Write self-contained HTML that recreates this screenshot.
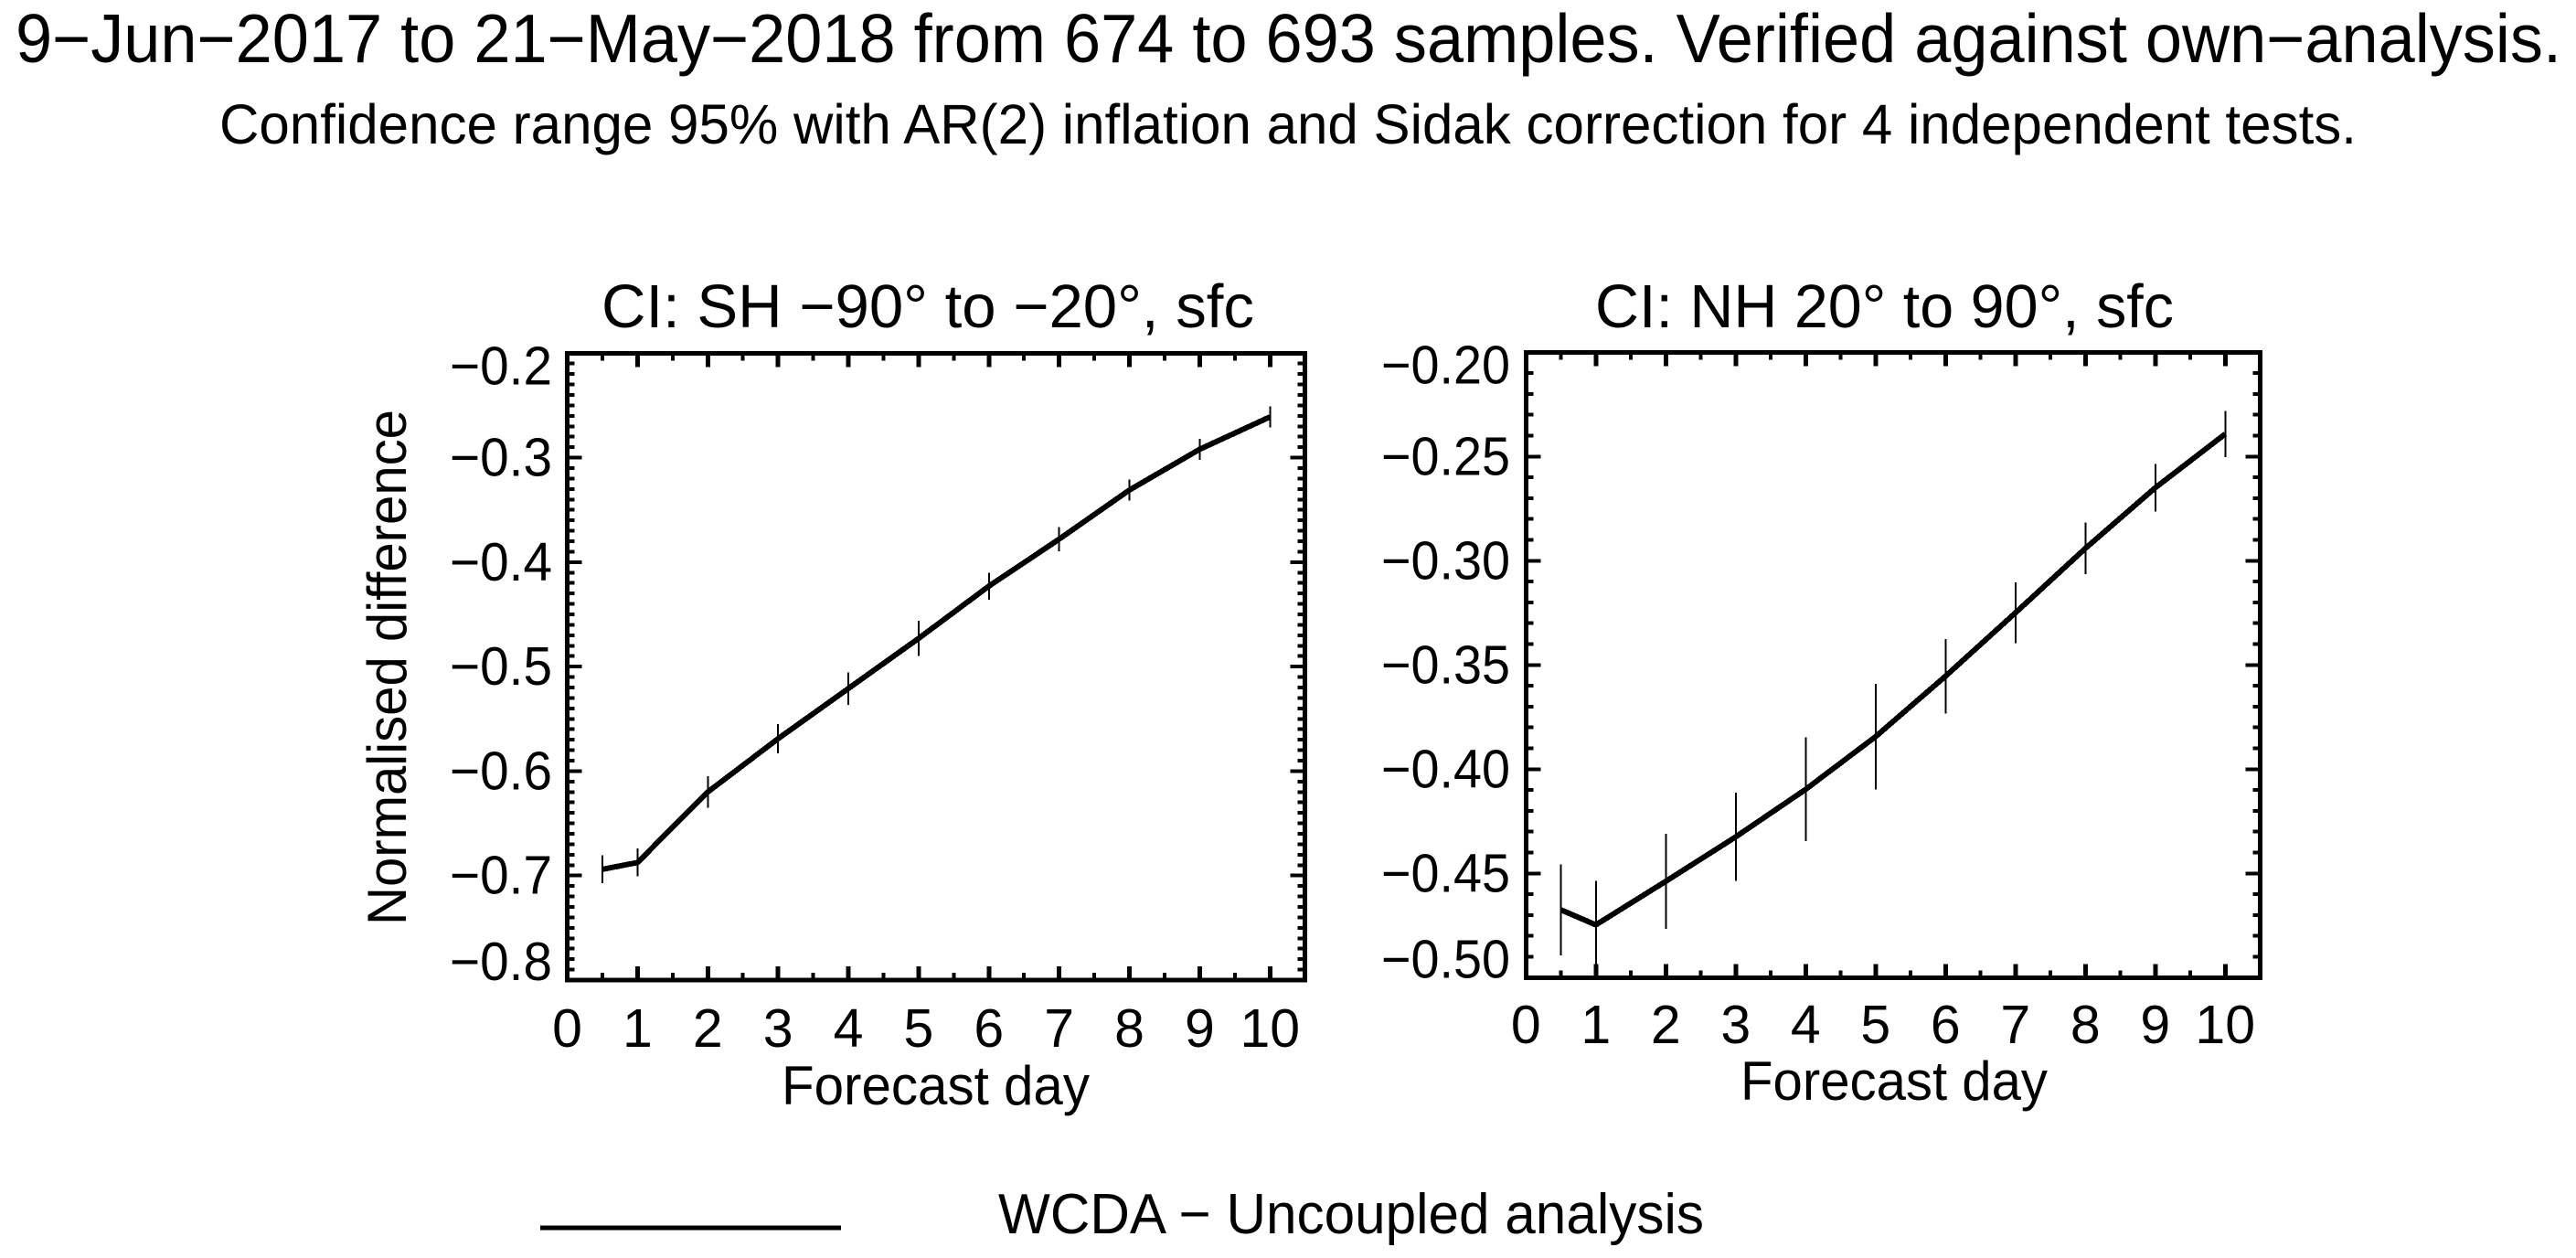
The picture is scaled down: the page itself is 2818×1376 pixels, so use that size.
<!DOCTYPE html>
<html lang="en">
<head>
<meta charset="utf-8">
<title>WCDA - Uncoupled analysis</title>
<style>
html,body{margin:0;padding:0;background:#fff;width:2818px;height:1376px;overflow:hidden}
svg{display:block}
text{font-family:"Liberation Sans",Arial,sans-serif;fill:#000}
</style>
</head>
<body>
<svg id="figure" xmlns="http://www.w3.org/2000/svg" width="2818" height="1376" viewBox="0 0 2818 1376">
  <rect x="0" y="0" width="2818" height="1376" fill="#fff"/>
  <text x="17" y="68" font-size="75" textLength="2785" lengthAdjust="spacingAndGlyphs">9−Jun−2017 to 21−May−2018 from 674 to 693 samples. Verified against own−analysis.</text>
  <text x="240" y="157" font-size="61" textLength="2338" lengthAdjust="spacingAndGlyphs">Confidence range 95% with AR(2) inflation and Sidak correction for 4 independent tests.</text>
  <text x="658" y="358" font-size="67" textLength="714" lengthAdjust="spacingAndGlyphs">CI: SH −90° to −20°, sfc</text>
  <text x="1745" y="358" font-size="67" textLength="633" lengthAdjust="spacingAndGlyphs">CI: NH 20° to 90°, sfc</text>
  <text transform="translate(444 1012) rotate(-90)" font-size="60" textLength="564" lengthAdjust="spacingAndGlyphs">Normalised difference</text>
  <text x="855" y="1208" font-size="60" textLength="337" lengthAdjust="spacingAndGlyphs">Forecast day</text>
  <text x="1904" y="1203" font-size="60" textLength="336" lengthAdjust="spacingAndGlyphs">Forecast day</text>
  <line x1="591" y1="1343" x2="920" y2="1343" stroke="#000" stroke-width="5" shape-rendering="crispEdges"/>
  <text x="1092" y="1349" font-size="62" textLength="772" lengthAdjust="spacingAndGlyphs">WCDA − Uncoupled analysis</text>
</svg>
<script>
const forecastDays = [0.5, 1, 2, 3, 4, 5, 6, 7, 8, 9, 10];
const shValues = [-0.694, -0.6875, -0.620, -0.569, -0.521, -0.473, -0.423, -0.378, -0.331, -0.292, -0.261];
const shErrors = [0.0134, 0.0134, 0.015, 0.014, 0.0155, 0.017, 0.013, 0.0115, 0.010, 0.010, 0.010];
const nhValues = [-0.4675, -0.4747, -0.4538, -0.4325, -0.4097, -0.3844, -0.3554, -0.325, -0.2941, -0.265, -0.2392];
const nhErrors = [0.0218, 0.021, 0.0228, 0.0212, 0.0249, 0.0254, 0.0179, 0.0145, 0.0124, 0.0114, 0.011];
const xTickLabels = ['0', '1', '2', '3', '4', '5', '6', '7', '8', '9', '10'];
const shYTickLabels = ['−0.2', '−0.3', '−0.4', '−0.5', '−0.6', '−0.7', '−0.8'];
const nhYTickLabels = ['−0.20', '−0.25', '−0.30', '−0.35', '−0.40', '−0.45', '−0.50'];

const NS = 'http://www.w3.org/2000/svg';
const figure = document.getElementById('figure');

function make(parent, tag, attrs) {
  const el = document.createElementNS(NS, tag);
  for (const k in attrs) el.setAttribute(k, attrs[k]);
  parent.appendChild(el);
  return el;
}

function parseTick(label) {
  return parseFloat(label.replace('−', '-'));
}

function drawPanel(cfg) {
  const xScale = v => cfg.left + (v - cfg.xMin) / (cfg.xMax - cfg.xMin) * (cfg.right - cfg.left);
  const yScale = v => cfg.top + (cfg.yMax - v) / (cfg.yMax - cfg.yMin) * (cfg.bottom - cfg.top);

  const group = make(figure, 'g', {'shape-rendering': 'crispEdges'});
  
  

  const frame = make(group, 'rect', {
    x: cfg.left, y: cfg.top, width: cfg.right - cfg.left, height: cfg.bottom - cfg.top,
    fill: 'none', stroke: '#000', 'stroke-width': 5
  });
  
  

  // x ticks: every half day, major on whole days, mirrored on the top edge
  for (let i = 1; i <= 20; i++) {
    const d = i / 2;
    const isMajor = i % 2 === 0;
    const len = isMajor ? 15 : 8;
    const wid = isMajor ? 5 : 4;
    const px = xScale(d);
    const lowTick = make(group, 'line', {x1: px, x2: px, y1: cfg.bottom, y2: cfg.bottom - len, stroke: '#000', 'stroke-width': wid});
    
    
    const highTick = make(group, 'line', {x1: px, x2: px, y1: cfg.top, y2: cfg.top + len, stroke: '#000', 'stroke-width': wid});
    
    
  }

  // y ticks: minor every 0.01, major on labelled values, mirrored on the right edge
  const nSteps = Math.round((cfg.yMax - cfg.yMin) / 0.01);
  for (let i = 1; i < nSteps; i++) {
    const v = cfg.yMin + i * 0.01;
    const isMajor = i % cfg.majorEvery === 0;
    const len = isMajor ? 16 : 8;
    const py = yScale(v);
    const leftTick = make(group, 'line', {x1: cfg.left, x2: cfg.left + len, y1: py, y2: py, stroke: '#000', 'stroke-width': 4});
    
    
    const rightTick = make(group, 'line', {x1: cfg.right, x2: cfg.right - len, y1: py, y2: py, stroke: '#000', 'stroke-width': 4});
    
    
  }

  // tick labels
  xTickLabels.forEach(label => {
    const t = make(figure, 'text', {x: xScale(parseFloat(label)), y: cfg.xLabelY, 'font-size': 59, 'text-anchor': 'middle'});
    
    
    t.textContent = label;
  });
  cfg.yTickLabels.forEach(label => {
    const base = Math.max(cfg.top + 34, Math.min(cfg.bottom, yScale(parseTick(label)) + 20));
    const t = make(figure, 'text', {
      x: cfg.yLabelRight, y: base, 'font-size': 59, 'text-anchor': 'end',
      textLength: cfg.yLabelWidth, lengthAdjust: 'spacingAndGlyphs'
    });
    
    
    t.textContent = label;
  });

  // error bars
  forecastDays.forEach((d, i) => {
    const bar = make(group, 'line', {
      x1: xScale(d), x2: xScale(d),
      y1: yScale(cfg.values[i] + cfg.errors[i]),
      y2: yScale(cfg.values[i] - cfg.errors[i]),
      stroke: '#000', 'stroke-width': 2
    });
    
    
  });

  // series line
  const pts = forecastDays.map((d, i) => xScale(d) + ',' + yScale(cfg.values[i])).join(' ');
  const line = make(group, 'polyline', {points: pts, fill: 'none', stroke: '#000', 'stroke-width': 6, 'stroke-linejoin': 'round'});
  
  
}

drawPanel({
  id: 'sh', left: 620.5, right: 1427.7, top: 386.3, bottom: 1072,
  xMin: 0, xMax: 10.5, yMin: -0.8, yMax: -0.2, majorEvery: 10,
  xLabelY: 1145, yLabelRight: 604, yLabelWidth: 112,
  values: shValues, errors: shErrors, yTickLabels: shYTickLabels
});
drawPanel({
  id: 'nh', left: 1669.3, right: 2472.5, top: 385.3, bottom: 1069.3,
  xMin: 0, xMax: 10.5, yMin: -0.5, yMax: -0.2, majorEvery: 5,
  xLabelY: 1141, yLabelRight: 1652, yLabelWidth: 141,
  values: nhValues, errors: nhErrors, yTickLabels: nhYTickLabels
});
</script>
</body>
</html>
